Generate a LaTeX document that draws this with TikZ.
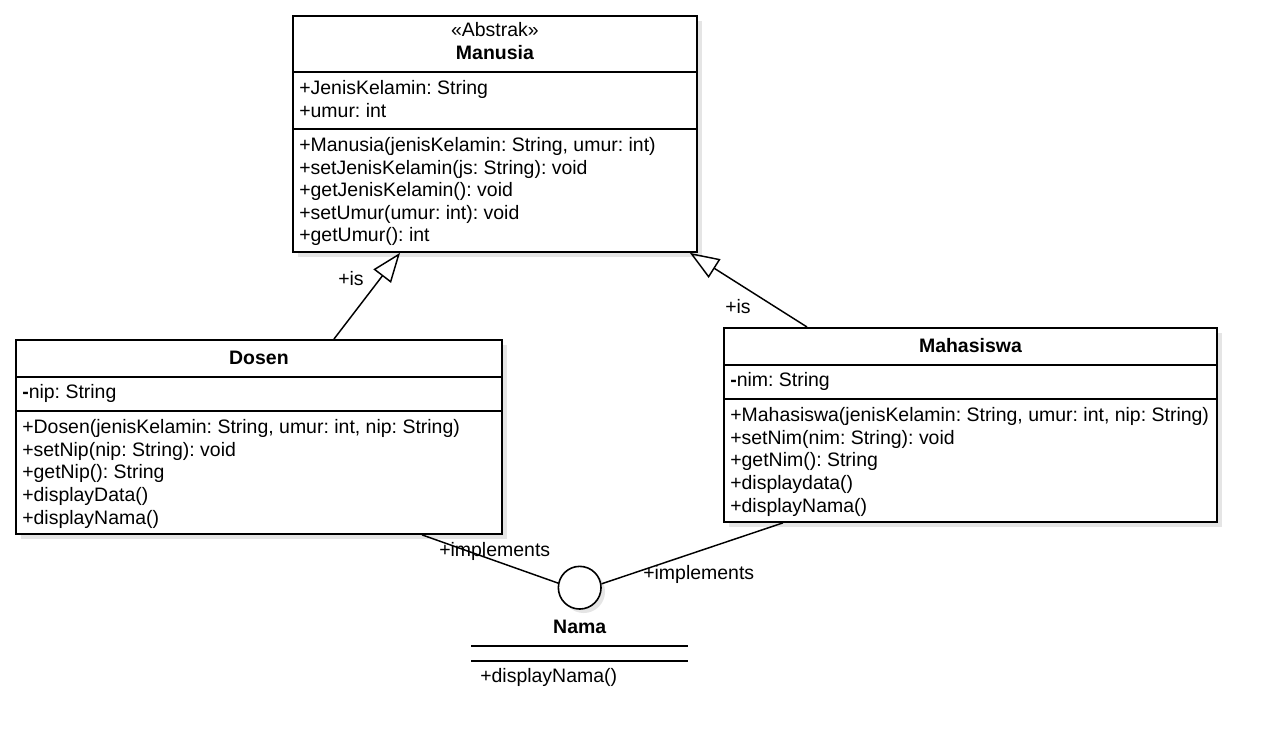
\documentclass[tikz,border=0pt]{standalone}
\usepackage{fontspec}
\setmainfont{Liberation Sans}
\usetikzlibrary{calc, arrows.meta, shadows}

\newcommand{\umlfont}{\fontsize{14.6}{16.9}\selectfont\frenchspacing}

\tikzset{
  umlclass/.style={draw, line width=1.4pt, fill=white, rectangle, inner sep=0pt, anchor=north west,
    drop shadow={shadow xshift=4pt, shadow yshift=-4pt, fill=black!10, opacity=1}},
  member/.style={anchor=base west, inner sep=0pt, align=left, font=\umlfont},
  classname/.style={anchor=base, inner sep=0pt, font=\umlfont\bfseries},
  sepline/.style={line width=1.4pt},
  gen/.style={line width=1.1pt, -{Triangle[open, length=22pt, width=16.5pt]}},
  assoc/.style={line width=1.1pt},
  lbl/.style={anchor=base west, inner sep=0pt, font=\umlfont},
}

\begin{document}
\begin{tikzpicture}[x=0.75pt, y=-0.75pt]
			\useasboundingbox (0,0) rectangle (1275,756);

			\node[umlclass, minimum width=303pt, minimum height=177pt] (manusia) at (292,15) {};
			\node[lbl, anchor=base] (manusiaStereo) at ($(manusia.north)+(0,22)$) {«Abstrak»};
			\node[classname] (manusiaName) at ($(manusia.north)+(0,45)$) {Manusia};
			\draw[sepline] ($(manusia.north west)+(0,57)$) -- ($(manusia.north east)+(0,57)$);
			\draw[sepline] ($(manusia.north west)+(0,114)$) -- ($(manusia.north east)+(0,114)$);
			\node[member] (manusiaAttr) at ($(manusia.north west)+(7,102.5)$) {+JenisKelamin: String\\+umur: int};
			\node[member] (manusiaOps) at ($(manusia.north west)+(7,227)$) {+Manusia(jenisKelamin: String, umur: int)\\+setJenisKelamin(js: String): void\\+getJenisKelamin(): void\\+setUmur(umur: int): void\\+getUmur(): int};

			\node[umlclass, minimum width=364.5pt, minimum height=145.5pt] (dosen) at (15,339) {};
			\node[classname] (dosenName) at ($(dosen.north)+(0,25)$) {Dosen};
			\draw[sepline] ($(dosen.north west)+(0,38)$) -- ($(dosen.north east)+(0,38)$);
			\draw[sepline] ($(dosen.north west)+(0,72)$) -- ($(dosen.north east)+(0,72)$);
			\node[member] (dosenAttr) at ($(dosen.north west)+(7,59)$) {\textbf{-}nip: String};
			\node[member] (dosenOps) at ($(dosen.north west)+(7,185)$) {+Dosen(jenisKelamin: String, umur: int, nip: String)\\+setNip(nip: String): void\\+getNip(): String\\+displayData()\\+displayNama()};

			\node[umlclass, minimum width=369.75pt, minimum height=145.5pt] (mahasiswa) at (723,327) {};
			\node[classname] (mahasiswaName) at ($(mahasiswa.north)+(0,25)$) {Mahasiswa};
			\draw[sepline] ($(mahasiswa.north west)+(0,38)$) -- ($(mahasiswa.north east)+(0,38)$);
			\draw[sepline] ($(mahasiswa.north west)+(0,72)$) -- ($(mahasiswa.north east)+(0,72)$);
			\node[member] (mahasiswaAttr) at ($(mahasiswa.north west)+(7,59)$) {\textbf{-}nim: String};
			\node[member] (mahasiswaOps) at ($(mahasiswa.north west)+(7,185)$) {+Mahasiswa(jenisKelamin: String, umur: int, nip: String)\\+setNim(nim: String): void\\+getNim(): String\\+displaydata()\\+displayNama()};

			\draw[gen] ($(dosen.north west)+(319,0)$) -- ($(manusia.south west)+(108,0)$);
			\node[lbl] (isDosen) at (338,285) {+is};
			\draw[gen] ($(mahasiswa.north west)+(84,0)$) -- ($(manusia.south east)+(-8,0)$);
			\node[lbl] (isMahasiswa) at (725,313) {+is};

			\node[circle, draw, line width=1.2pt, fill=white, minimum size=32pt, inner sep=0pt,
			  drop shadow={shadow xshift=3pt, shadow yshift=-3pt, fill=black!10, opacity=1}] (nama) at (579.7,587.7) {};
			\draw[assoc] ($(dosen.south west)+(407,0)$) -- (nama.168);
			\draw[assoc] ($(mahasiswa.south west)+(60,0)$) -- (nama.10);
			\node[lbl] (implDosen) at (439,556.5) {+implements};
			\node[lbl] (implMahasiswa) at (643,579) {+implements};

			\node[classname] (namaName) at ($(nama.center)+(0,45.5)$) {Nama};
			\draw[assoc] (471,646) -- (688,646);
			\draw[assoc] (471,661) -- (688,661);
			\node[member] (namaOps) at (480,682) {+displayNama()};
		\end{tikzpicture}
\end{document}
